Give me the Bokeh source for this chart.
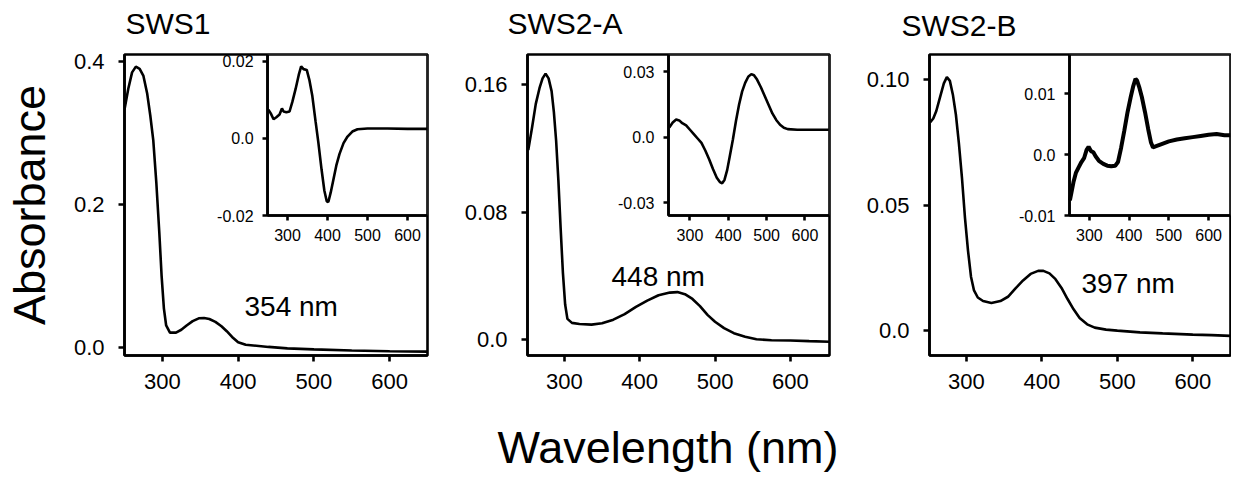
from bokeh.plotting import figure
from bokeh.models import Range1d, LinearAxis, FixedTicker, Label
from bokeh.layouts import row, column
from bokeh.embed import file_html
from bokeh.resources import INLINE

FONT = "Liberation Sans"

# ---------------- data ----------------
main_x_ticks = [300, 400, 500, 600]
inset_x_ticks = [300, 400, 500, 600]

# SWS1
sws1_wl = [250, 255, 260, 265, 270, 275, 280, 284, 288, 292, 296, 299, 302, 305, 310, 318, 325,
           332, 340, 348, 355, 362, 370, 378, 385, 392, 400, 410, 420, 440, 465, 500, 550, 600, 650]
sws1_abs = [0.333, 0.362, 0.385, 0.393, 0.390, 0.380, 0.355, 0.325, 0.290, 0.231, 0.160, 0.100,
            0.055, 0.031, 0.021, 0.021, 0.025, 0.031, 0.037, 0.041, 0.0415, 0.040, 0.036, 0.030,
            0.023, 0.015, 0.0075, 0.004, 0.003, 0.001, -0.001, -0.0025, -0.004, -0.005, -0.0056]
sws1_inset_wl = [252, 258, 265, 272, 280, 286, 290, 297, 305, 312, 320, 328, 334, 340, 348, 355,
                 362, 370, 377, 385, 392, 398, 402, 408, 415, 422, 430, 440, 450, 462, 475, 500,
                 550, 600, 650]
sws1_inset_diff = [0.0075, 0.0065, 0.0050, 0.0055, 0.0062, 0.0078, 0.0070, 0.0068, 0.0070, 0.0095,
                   0.0128, 0.0165, 0.0187, 0.0180, 0.0178, 0.0150, 0.0110, 0.0045, -0.0010,
                   -0.0080, -0.0135, -0.0163, -0.0165, -0.0140, -0.0105, -0.0070, -0.0040,
                   -0.0012, 0.0005, 0.0018, 0.0024, 0.0026, 0.0026, 0.0025, 0.0025]
sws1_y_ticks = [0.0, 0.2, 0.4]
sws1_y_labels = ["0.0", "0.2", "0.4"]
sws1_inset_y_ticks = [-0.02, 0.0, 0.02]
sws1_inset_y_labels = ["-0.02", "0.0", "0.02"]

# SWS2-A
sws2a_wl = [252, 257, 262, 267, 271, 275, 279, 283, 286, 289, 292, 295, 298, 301, 304, 310, 320,
            336, 350, 365, 380, 395, 410, 425, 440, 450, 460, 470, 480, 490, 500, 512, 525, 540,
            555, 575, 600, 625, 652]
sws2a_abs = [0.119, 0.133, 0.148, 0.158, 0.164, 0.167, 0.164, 0.156, 0.143, 0.125, 0.100, 0.070,
             0.042, 0.022, 0.013, 0.0105, 0.0098, 0.0094, 0.0102, 0.0125, 0.016, 0.0205, 0.0245,
             0.0278, 0.0295, 0.0298, 0.0285, 0.0255, 0.0210, 0.0155, 0.0112, 0.0072, 0.0040,
             0.0018, 0.0002, -0.0004, -0.0006, -0.0010, -0.0014]
sws2a_inset_wl = [246, 255, 264, 272, 280, 290, 300, 310, 320, 330, 340, 350, 360, 370, 378, 384,
                  390, 397, 404, 412, 420, 428, 436, 444, 452, 460, 467, 475, 485, 495, 505, 515,
                  525, 535, 545, 555, 580, 620, 662]
sws2a_inset_diff = [0.0045, 0.0068, 0.0082, 0.0078, 0.0065, 0.0055, 0.0035, 0.0015, -0.0005,
                    -0.0025, -0.0060, -0.0100, -0.0145, -0.0185, -0.0205, -0.0210, -0.0195,
                    -0.0150, -0.0085, -0.0010, 0.0075, 0.0150, 0.0210, 0.0250, 0.0278, 0.0290,
                    0.0285, 0.0265, 0.0230, 0.0190, 0.0150, 0.0110, 0.0080, 0.0058, 0.0044,
                    0.0038, 0.0035, 0.0035, 0.0035]
sws2a_y_ticks = [0.0, 0.08, 0.16]
sws2a_y_labels = ["0.0", "0.08", "0.16"]
sws2a_inset_y_ticks = [-0.03, 0.0, 0.03]
sws2a_inset_y_labels = ["-0.03", "0.0", "0.03"]

# SWS2-B
sws2b_wl = [252, 256, 260, 265, 270, 274, 278, 282, 286, 290, 294, 298, 302, 306, 310, 315, 322,
            333, 345, 355, 365, 375, 385, 395, 402, 410, 418, 426, 434, 442, 450, 460, 470, 485,
            500, 530, 560, 600, 625, 650]
sws2b_abs = [0.0830, 0.0845, 0.0875, 0.0930, 0.0985, 0.1010, 0.0995, 0.0940, 0.0860, 0.0745,
             0.0610, 0.0450, 0.0320, 0.0215, 0.0160, 0.0132, 0.0118, 0.0110, 0.0118, 0.0135,
             0.0168, 0.0200, 0.0226, 0.0238, 0.0238, 0.0228, 0.0205, 0.0170, 0.0126, 0.0085,
             0.0050, 0.0025, 0.0012, 0.0004, 0.0000, -0.0007, -0.0011, -0.0016, -0.0018, -0.0021]
sws2b_inset_wl = [251, 255, 260, 266, 272, 280, 287, 293, 298, 304, 310, 316, 324, 335, 345, 355,
                  365, 372, 380, 388, 396, 404, 410, 416, 420, 426, 432, 440, 448, 455, 460, 468,
                  480, 500, 520, 540, 560, 580, 600, 620, 640, 655]
sws2b_inset_diff = [-0.0075, -0.0062, -0.0045, -0.0030, -0.0022, -0.0012, -0.0005, 0.0008, 0.0013,
                    0.0006, 0.0004, -0.0003, -0.0010, -0.0015, -0.0018, -0.0019, -0.0018, -0.0012,
                    0.0012, 0.0040, 0.0070, 0.0095, 0.0112, 0.0125, 0.0122, 0.0110, 0.0095, 0.0070,
                    0.0042, 0.0020, 0.0012, 0.0014, 0.0017, 0.0022, 0.0025, 0.0027, 0.0029, 0.0031,
                    0.0033, 0.0034, 0.0032, 0.0032]
sws2b_y_ticks = [0.0, 0.05, 0.10]
sws2b_y_labels = ["0.0", "0.05", "0.10"]
sws2b_inset_y_ticks = [-0.01, 0.0, 0.01]
sws2b_inset_y_labels = ["-0.01", "0.0", "0.01"]

titles = ["SWS1", "SWS2-A", "SWS2-B"]
notes = ["354 nm", "448 nm", "397 nm"]
y_title = "Absorbance"
x_title = "Wavelength (nm)"

# ---------------- layout / style ----------------
TOTAL_W = 1231
TOP_STRIP = 46
BOTTOM_STRIP = 70
FH = 301          # frame height
TOP = 8
BOTTOM = 52
INSET_W = 161
INSET_H = 161
LW = 2.6


def style_axis(ax, size, tick_out, standoff):
    ax.major_tick_in = 0
    ax.major_tick_out = tick_out
    ax.minor_tick_line_color = None
    ax.major_tick_line_width = LW
    ax.major_tick_line_color = "black"
    ax.axis_line_width = LW
    ax.axis_line_color = "black"
    ax.major_label_text_font = FONT
    ax.major_label_text_font_size = size
    ax.major_label_text_color = "black"
    ax.major_label_standoff = standoff


def text_label(x, y, text, size):
    return Label(x=x, y=y, x_units="screen", y_units="screen", text=text, text_font=FONT,
                 text_font_size=size, text_color="black", text_baseline="alphabetic",
                 text_align="left")


def strip(height):
    s = figure(width=TOTAL_W, height=height, min_border=0, min_border_left=0,
               min_border_right=0, min_border_top=0, min_border_bottom=0,
               x_axis_type=None, y_axis_type=None, x_range=Range1d(0, 1), y_range=Range1d(0, 1),
               output_backend="svg", toolbar_location=None, tools="")
    s.outline_line_color = None
    s.grid.visible = False
    return s


def panel(wl, ab, iwl, idiff, xr, yr, ixr, iyr, yt, yl, iyt, iyl, fw, bl, br,
          note, note_pos, inset_lw=LW):
    p = figure(width=bl + fw + br, height=TOP + FH + BOTTOM,
               min_border_left=bl, min_border_right=br,
               min_border_top=TOP, min_border_bottom=BOTTOM,
               x_range=Range1d(*xr), y_range=Range1d(*yr),
               output_backend="svg", toolbar_location=None, tools="")
    p.xgrid.visible = False
    p.ygrid.visible = False
    p.outline_line_color = "black"
    p.outline_line_width = LW

    xa = p.xaxis[0]
    ya = p.yaxis[0]
    xa.ticker = FixedTicker(ticks=main_x_ticks)
    ya.ticker = FixedTicker(ticks=yt)
    ya.major_label_overrides = dict(zip(yt, yl))
    style_axis(xa, "22px", 6, 12)
    style_axis(ya, "22px", 6, 14)

    # inset coordinates: inset box sits in the top-right corner of the frame
    ix0 = ixr[1] - (ixr[1] - ixr[0]) * fw / INSET_W
    iy0 = iyr[1] - (iyr[1] - iyr[0]) * FH / INSET_H
    p.extra_x_ranges = {"ix": Range1d(ix0, ixr[1])}
    p.extra_y_ranges = {"iy": Range1d(iy0, iyr[1])}

    p.line(wl, ab, line_color="black", line_width=LW)
    p.quad(left=[ixr[0]], right=[ixr[1]], bottom=[iyr[0]], top=[iyr[1]],
           x_range_name="ix", y_range_name="iy",
           fill_color="white", line_color="black", line_width=LW)
    p.line(iwl, idiff, x_range_name="ix", y_range_name="iy",
           line_color="black", line_width=inset_lw)

    iya = LinearAxis(x_range_name="ix", y_range_name="iy", fixed_location=ixr[0],
                     bounds=(iyr[0], iyr[1]), ticker=FixedTicker(ticks=iyt),
                     major_label_overrides=dict(zip(iyt, iyl)))
    style_axis(iya, "16px", 5, 9)
    p.add_layout(iya, "left")
    ixa = LinearAxis(x_range_name="ix", y_range_name="iy", fixed_location=iyr[0],
                     bounds=(ixr[0], ixr[1]), ticker=FixedTicker(ticks=inset_x_ticks))
    style_axis(ixa, "16px", 5, 8)
    p.add_layout(ixa, "below")

    p.add_layout(text_label(note_pos[0], note_pos[1], note, "28px"))
    return p


p1 = panel(sws1_wl, sws1_abs, sws1_inset_wl, sws1_inset_diff,
           (250, 650), (-0.011, 0.41), (250, 650), (-0.02, 0.0218),
           sws1_y_ticks, sws1_y_labels, sws1_inset_y_ticks, sws1_inset_y_labels,
           305, 122, 14, notes[0], (120, 49))
p1.yaxis[0].axis_label = y_title
p1.yaxis[0].axis_label_text_font = FONT
p1.yaxis[0].axis_label_text_font_size = "45px"
p1.yaxis[0].axis_label_text_font_style = "normal"
p1.yaxis[0].axis_label_text_color = "black"
p1.yaxis[0].axis_label_standoff = 16

p2 = panel(sws2a_wl, sws2a_abs, sws2a_inset_wl, sws2a_inset_diff,
           (251, 652), (-0.010, 0.179), (244, 664), (-0.0358, 0.038),
           sws2a_y_ticks, sws2a_y_labels, sws2a_inset_y_ticks, sws2a_inset_y_labels,
           302, 86, 22, notes[1], (84, 79))

p3 = panel(sws2b_wl, sws2b_abs, sws2b_inset_wl, sws2b_inset_diff,
           (251, 650), (-0.0099, 0.110), (250, 655), (-0.01, 0.0165),
           sws2b_y_ticks, sws2b_y_labels, sws2b_inset_y_ticks, sws2b_inset_y_labels,
           301, 78, 1, notes[2], (152, 72), inset_lw=4.0)

top = strip(TOP_STRIP)
top.add_layout(text_label(125, 23, titles[0], "30px"))
top.add_layout(text_label(507, 23, titles[1], "30px"))
top.add_layout(text_label(901, 21, titles[2], "30px"))

bottom = strip(BOTTOM_STRIP)
bottom.add_layout(text_label(497, 30, x_title, "45px"))

layout = column(top, row(p1, p2, p3), bottom)
open("out.html", "w").write(file_html(layout, INLINE))
